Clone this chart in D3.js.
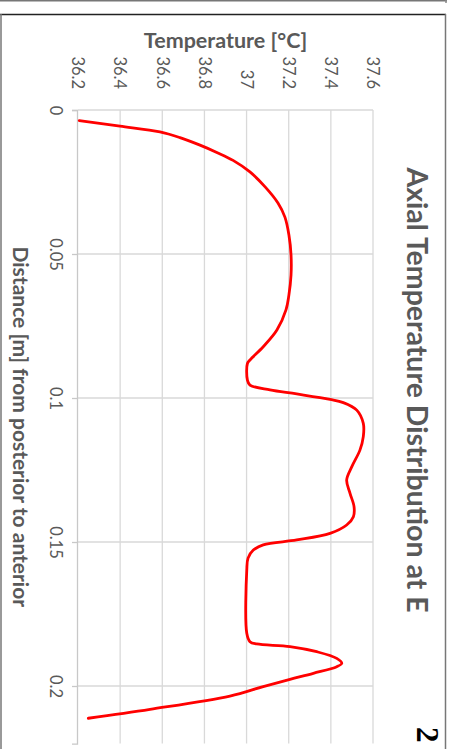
<!DOCTYPE html>
<html>
<head>
<meta charset="utf-8">
<script src="https://cdn.jsdelivr.net/npm/d3@7"></script>
<style>
  body { margin: 0; background: #fff; }
  svg { display: block; }
</style>
</head>
<body>
<svg id="chart" width="450" height="749"></svg>
<script>
// Axial temperature profile, distance from posterior (0) to anterior
const distance = [
  0.0037, 0.0056, 0.0076, 0.0096, 0.0122, 0.0149, 0.0175, 0.0215, 0.0267, 0.0323,
  0.0372, 0.0434, 0.0503, 0.0573, 0.0642, 0.0694, 0.0764, 0.0822, 0.0868, 0.0880,
  0.0938, 0.0955, 0.0972, 0.0986, 0.1005, 0.1016, 0.1042, 0.1088, 0.1134, 0.1181,
  0.1239, 0.1285, 0.1331, 0.1377, 0.1412, 0.1441, 0.1470, 0.1493, 0.1510, 0.1528,
  0.1556, 0.1597, 0.1817, 0.1846, 0.1854, 0.1863, 0.1881, 0.1904, 0.1921, 0.1933,
  0.1956, 0.1977, 0.2002, 0.2035, 0.2081, 0.2112
];
const temperature = [
  36.206, 36.399, 36.589, 36.684, 36.779, 36.864, 36.936, 37.016, 37.088, 37.149,
  37.182, 37.201, 37.211, 37.211, 37.201, 37.187, 37.144, 37.079, 37.016, 37.004,
  37.004, 37.016, 37.111, 37.238, 37.396, 37.459, 37.523, 37.554, 37.554, 37.538,
  37.499, 37.475, 37.491, 37.510, 37.507, 37.475, 37.396, 37.238, 37.079, 37.032,
  37.007, 37.001, 37.001, 37.016, 37.048, 37.206, 37.333, 37.428, 37.452, 37.428,
  37.317, 37.206, 37.079, 36.921, 36.542, 36.249
];

const tempTicks = [36.2, 36.4, 36.6, 36.8, 37.0, 37.2, 37.4, 37.6];
const tempTickLabels = ["36.2", "36.4", "36.6", "36.8", "37", "37.2", "37.4", "37.6"];
const distTicks = [0, 0.05, 0.1, 0.15, 0.2];
const distTickLabels = ["0", "0.05", "0.1", "0.15", "0.2"];
const distDomain = [0, 0.22];
const tempDomain = [36.2, 37.6];

const titleText = "Axial Temperature Distribution at E";
const tempTitle = "Temperature [°C]";
const distTitle = "Distance [m] from posterior to anterior";
const pageNumber = "2";

const FONT = "Lato, 'Open Sans', sans-serif";
const TEXT = "#595959";
const GRID = "#d9d9d9";

const svg = d3.select("#chart");

// Page frame
svg.append("line").attr("x1", 0).attr("x2", 447).attr("y1", 0.5).attr("y2", 0.5)
  .attr("stroke", "#777").attr("stroke-width", 2);
svg.append("line").attr("x1", 446).attr("x2", 446).attr("y1", 0).attr("y2", 3)
  .attr("stroke", "#888").attr("stroke-width", 1.5);
svg.append("line").attr("x1", 0).attr("x2", 446).attr("y1", 14.5).attr("y2", 14.5)
  .attr("stroke", "#222").attr("stroke-width", 1.5);
svg.append("line").attr("x1", 1).attr("x2", 1).attr("y1", 14).attr("y2", 749)
  .attr("stroke", "#777").attr("stroke-width", 1.5);
svg.append("line").attr("x1", 445.5).attr("x2", 445.5).attr("y1", 14).attr("y2", 749)
  .attr("stroke", "#777").attr("stroke-width", 1.5);

// The chart is laid out in landscape and turned a quarter turn clockwise
const g = svg.append("g").attr("transform", "translate(450,0) rotate(90)");

const plot = { left: 110, right: 743.6, top: 77, bottom: 372 };
const x = d3.scaleLinear().domain(distDomain).range([plot.left, plot.right]);
const y = d3.scaleLinear().domain(tempDomain).range([plot.bottom, plot.top]);

// Horizontal gridlines (temperature)
g.append("g").selectAll("line")
  .data(tempTicks.slice(1))
  .join("line")
  .attr("x1", plot.left).attr("x2", plot.right)
  .attr("y1", d => y(d)).attr("y2", d => y(d))
  .attr("stroke", GRID).attr("stroke-width", 1.3);

// Vertical gridlines (distance)
g.append("g").selectAll("line")
  .data(distTicks)
  .join("line")
  .attr("x1", d => x(d)).attr("x2", d => x(d))
  .attr("y1", plot.top).attr("y2", plot.bottom)
  .attr("stroke", GRID).attr("stroke-width", 1.3);

// Distance axis
const xAxis = g.append("g")
  .attr("transform", `translate(0,${plot.bottom})`)
  .call(d3.axisBottom(x).tickValues(distTicks)
    .tickFormat((d, i) => distTickLabels[i]).tickSize(6).tickPadding(10));
xAxis.select(".domain").attr("stroke", "#c8c8c8").attr("stroke-width", 1.3);
xAxis.selectAll(".tick line").attr("stroke", "#c8c8c8").attr("stroke-width", 1.3);
xAxis.selectAll("text").attr("fill", TEXT).attr("font-family", FONT).attr("font-size", 16.5);

// Temperature axis (labels only)
const yAxis = g.append("g")
  .attr("transform", `translate(${plot.left},0)`)
  .call(d3.axisLeft(y).tickValues(tempTicks)
    .tickFormat((d, i) => tempTickLabels[i]).tickSize(0).tickPadding(21));
yAxis.select(".domain").remove();
yAxis.selectAll("text").attr("fill", TEXT).attr("font-family", FONT).attr("font-size", 16.5);

// Temperature curve
const line = d3.line()
  .x((d, i) => x(distance[i]))
  .y(d => y(d))
  .curve(d3.curveCatmullRom.alpha(0.5));
g.append("path")
  .datum(temperature)
  .attr("d", line)
  .attr("fill", "none")
  .attr("stroke", "#ff0000")
  .attr("stroke-width", 2.8)
  .attr("stroke-linejoin", "round")
  .attr("stroke-linecap", "round");

// Titles
g.append("text")
  .attr("x", 390).attr("y", 43)
  .attr("text-anchor", "middle")
  .attr("font-family", FONT).attr("font-weight", "bold").attr("font-size", 28.5)
  .attr("fill", TEXT)
  .text(titleText);

g.append("text")
  .attr("transform", `translate(40,${(plot.top + plot.bottom) / 2}) rotate(-90)`)
  .attr("text-anchor", "middle").attr("dy", "0.35em")
  .attr("font-family", FONT).attr("font-weight", "bold").attr("font-size", 21.5)
  .attr("fill", TEXT)
  .text(tempTitle);

g.append("text")
  .attr("x", (plot.left + plot.right) / 2).attr("y", 437)
  .attr("text-anchor", "middle")
  .attr("font-family", FONT).attr("font-weight", "bold").attr("font-size", 21)
  .attr("fill", TEXT)
  .text(distTitle);

// Page number
g.append("text")
  .attr("x", 727).attr("y", 33)
  .attr("font-family", "'Liberation Serif', serif").attr("font-weight", "bold")
  .attr("font-size", 31).attr("fill", "#000")
  .text(pageNumber);
</script>
</body>
</html>
